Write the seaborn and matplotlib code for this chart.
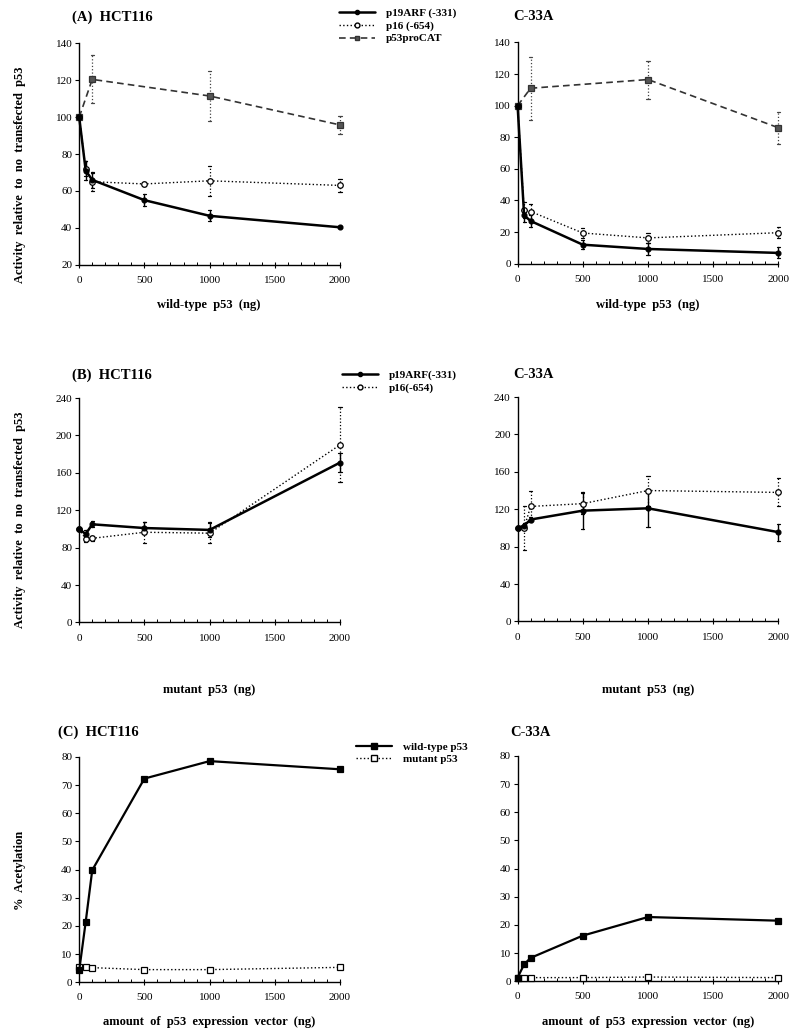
import pandas as pd
import seaborn as sns
import matplotlib.pyplot as plt
from matplotlib.lines import Line2D
from matplotlib.ticker import MultipleLocator

sns.set_theme(style="ticks")
plt.rcParams["font.family"] = ["Liberation Serif", "DejaVu Serif"]
plt.rcParams["text.color"] = "black"
plt.rcParams["axes.labelcolor"] = "black"
plt.rcParams["xtick.color"] = "black"
plt.rcParams["ytick.color"] = "black"

# (A) wild-type p53
dose = [0, 50, 100, 500, 1000, 2000]
dose_cat = [0, 100, 1000, 2000]

a_hct_p19 = [100, 71, 66, 55, 46.5, 40.3]
a_hct_p19_err = [0, 5, 4.5, 3.3, 3, 0.5]
a_hct_p16 = [100, 72, 65, 63.8, 65.5, 63]
a_hct_p16_err = [0, 4, 5, 1, 8, 3.5]
a_hct_cat = [100, 120.5, 111.5, 95.8]
a_hct_cat_err = [0, 13, 13.5, 5]

a_c33_p19 = [100, 30.6, 27, 12, 9.3, 6.8]
a_c33_p19_err = [0, 4, 4, 3, 3.5, 3.5]
a_c33_p16 = [100, 34, 33, 19.4, 16.3, 19.6]
a_c33_p16_err = [0, 5, 5, 3, 3, 3.5]
a_c33_cat = [100, 111, 116.5, 86]
a_c33_cat_err = [0, 20, 12, 10]

# (B) mutant p53
b_hct_p19 = [100, 94.6, 105, 101, 99, 171]
b_hct_p19_err = [0, 4, 3, 6, 8, 10]
b_hct_p16 = [100, 89, 90, 96.5, 95.5, 190]
b_hct_p16_err = [0, 3, 3, 11, 11, 40]

b_c33_p19 = [100, 102.5, 109, 118.5, 121, 95.5]
b_c33_p19_err = [0, 3, 3, 20, 20, 9]
b_c33_p16 = [100, 100, 123, 126, 140, 138]
b_c33_p16_err = [0, 24, 17, 11, 16, 15]

# (C) acetylation
c_hct_wt = [4.2, 21.5, 39.8, 72.3, 78.5, 75.6]
c_hct_mut = [5.6, 5.5, 5.2, 4.5, 4.5, 5.3]
c_c33_wt = [1.3, 6, 8.3, 16.2, 22.8, 21.5]
c_c33_mut = [1.2, 1.3, 1.3, 1.3, 1.5, 1.3]

styles = {
    "p19": dict(color="black", linestyle="-", lw=1.8, marker="o", ms=3.5,
                mfc="black", mec="black"),
    "p16": dict(color="black", linestyle=":", lw=1.0, marker="o", ms=4,
                mfc="white", mec="black"),
    "cat": dict(color="#333333", linestyle=(0, (4, 2.5)), lw=1.2, marker="s",
                ms=4, mfc="#555555", mec="#333333"),
    "wt": dict(color="black", linestyle="-", lw=1.6, marker="s", ms=4.5,
               mfc="black", mec="black"),
    "mut": dict(color="black", linestyle=":", lw=1.0, marker="s", ms=4.5,
                mfc="white", mec="black"),
}
err_styles = {
    "p19": dict(ls="-", lw=1.0, color="black"),
    "p16": dict(ls=":", lw=0.9, color="black"),
    "cat": dict(ls=":", lw=0.9, color="#444444"),
}


def draw(ax, x, y, key, err=None):
    st = styles[key]
    df = pd.DataFrame({"x": x, "y": y})
    sns.lineplot(data=df, x="x", y="y", ax=ax, color=st["color"],
                 linestyle=st["linestyle"], lw=st["lw"], marker=st["marker"],
                 markersize=st["ms"], markerfacecolor=st["mfc"],
                 markeredgecolor=st["mec"], markeredgewidth=0.9,
                 clip_on=False, zorder=3)
    if err is not None:
        es = err_styles[key]
        for xi, yi, ei in zip(x, y, err):
            if ei <= 0:
                continue
            ax.plot([xi, xi], [yi - ei, yi + ei], color=es["color"],
                    ls=es["ls"], lw=es["lw"], zorder=2, clip_on=False)
            ax.plot([xi - 12, xi + 12], [yi - ei, yi - ei], color=es["color"],
                    lw=0.9, zorder=2, clip_on=False)
            ax.plot([xi - 12, xi + 12], [yi + ei, yi + ei], color=es["color"],
                    lw=0.9, zorder=2, clip_on=False)


def style_axes(ax, ylim, ystep):
    ax.set_xlim(0, 2000)
    ax.set_ylim(*ylim)
    ax.set_xticks([0, 500, 1000, 1500, 2000])
    ax.xaxis.set_minor_locator(MultipleLocator(100))
    ax.set_yticks(range(ylim[0], ylim[1] + 1, ystep))
    for side in ["top", "right"]:
        ax.spines[side].set_visible(False)
    for side in ["left", "bottom"]:
        ax.spines[side].set_linewidth(1.0)
        ax.spines[side].set_color("black")
    ax.tick_params(axis="y", direction="out", length=3, width=0.8,
                   labelsize=8, pad=2, colors="black")
    ax.tick_params(axis="x", which="major", direction="inout", length=4,
                   width=0.8, labelsize=8, pad=6, colors="black")
    ax.tick_params(axis="x", which="minor", direction="in", length=2,
                   width=0.7)
    ax.set_xlabel("")
    ax.set_ylabel("")


fig = plt.figure(figsize=(8, 10.34), dpi=100)
lx, rx, w = 0.099, 0.647, 0.326
axA1 = fig.add_axes([lx, 0.744, w, 0.214])
axA2 = fig.add_axes([rx, 0.745, w, 0.214])
axB1 = fig.add_axes([lx, 0.398, w, 0.217])
axB2 = fig.add_axes([rx, 0.399, w, 0.217])
axC1 = fig.add_axes([lx, 0.050, w, 0.218])
axC2 = fig.add_axes([rx, 0.051, w, 0.218])

# panel A
draw(axA1, dose_cat, a_hct_cat, "cat", a_hct_cat_err)
draw(axA1, dose, a_hct_p16, "p16", a_hct_p16_err)
draw(axA1, dose, a_hct_p19, "p19", a_hct_p19_err)
style_axes(axA1, (20, 140), 20)
draw(axA2, dose_cat, a_c33_cat, "cat", a_c33_cat_err)
draw(axA2, dose, a_c33_p16, "p16", a_c33_p16_err)
draw(axA2, dose, a_c33_p19, "p19", a_c33_p19_err)
style_axes(axA2, (0, 140), 20)

# panel B
draw(axB1, dose, b_hct_p16, "p16", b_hct_p16_err)
draw(axB1, dose, b_hct_p19, "p19", b_hct_p19_err)
style_axes(axB1, (0, 240), 40)
draw(axB2, dose, b_c33_p16, "p16", b_c33_p16_err)
draw(axB2, dose, b_c33_p19, "p19", b_c33_p19_err)
style_axes(axB2, (0, 240), 40)

# panel C
draw(axC1, dose, c_hct_mut, "mut")
draw(axC1, dose, c_hct_wt, "wt")
style_axes(axC1, (0, 80), 10)
draw(axC2, dose, c_c33_mut, "mut")
draw(axC2, dose, c_c33_wt, "wt")
style_axes(axC2, (0, 80), 10)

# titles
tkw = dict(fontsize=10.5, fontweight="bold", ha="left", va="center", color="black")
fig.text(72 / 800, 1 - 17 / 1034, "(A)  HCT116", **tkw)
fig.text(513 / 800, 1 - 17 / 1034, "C-33A", **tkw)
fig.text(72 / 800, 1 - 375 / 1034, "(B)  HCT116", **tkw)
fig.text(513 / 800, 1 - 375 / 1034, "C-33A", **tkw)
fig.text(58 / 800, 1 - 732 / 1034, "(C)  HCT116", **tkw)
fig.text(510 / 800, 1 - 732 / 1034, "C-33A", **tkw)

# axis labels
lkw = dict(fontsize=9, fontweight="bold", ha="center", va="center", color="black")
fig.text(209 / 800, 1 - 305 / 1034, "wild-type  p53  (ng)", **lkw)
fig.text(648 / 800, 1 - 305 / 1034, "wild-type  p53  (ng)", **lkw)
fig.text(209 / 800, 1 - 690 / 1034, "mutant  p53  (ng)", **lkw)
fig.text(648 / 800, 1 - 690 / 1034, "mutant  p53  (ng)", **lkw)
fig.text(209 / 800, 1 - 1022 / 1034, "amount  of  p53  expression  vector  (ng)", **lkw)
fig.text(648 / 800, 1 - 1022 / 1034, "amount  of  p53  expression  vector  (ng)", **lkw)
fig.text(20 / 800, 1 - 175 / 1034, "Activity  relative  to  no  transfected  p53",
         rotation=90, **lkw)
fig.text(20 / 800, 1 - 520 / 1034, "Activity  relative  to  no  transfected  p53",
         rotation=90, **lkw)
fig.text(20 / 800, 1 - 870 / 1034, "%  Acetylation", rotation=90, **lkw)


def handle(key):
    st = styles[key]
    return Line2D([], [], color=st["color"], linestyle=st["linestyle"],
                  lw=st["lw"], marker=st["marker"], markersize=st["ms"] - 0.5,
                  markerfacecolor=st["mfc"], markeredgecolor=st["mec"])


legkw = dict(loc="upper left", frameon=False, handlelength=3.2,
             handletextpad=1.0, labelspacing=0.25, borderaxespad=0,
             borderpad=0, bbox_transform=fig.transFigure, labelcolor="black",
             prop={"family": ["Liberation Serif"], "weight": "bold", "size": 8})
axA1.legend([handle("p19"), handle("p16"), handle("cat")],
            ["p19ARF (-331)", "p16 (-654)", "p53proCAT"],
            bbox_to_anchor=(339 / 800, 1 - 8 / 1034), **legkw)
axB1.legend([handle("p19"), handle("p16")],
            ["p19ARF(-331)", "p16(-654)"],
            bbox_to_anchor=(342 / 800, 1 - 370 / 1034), **legkw)
axC1.legend([handle("wt"), handle("mut")],
            ["wild-type p53", "mutant p53"],
            bbox_to_anchor=(356 / 800, 1 - 742 / 1034), **legkw)

plt.savefig("out.png", dpi=100, facecolor="white")
